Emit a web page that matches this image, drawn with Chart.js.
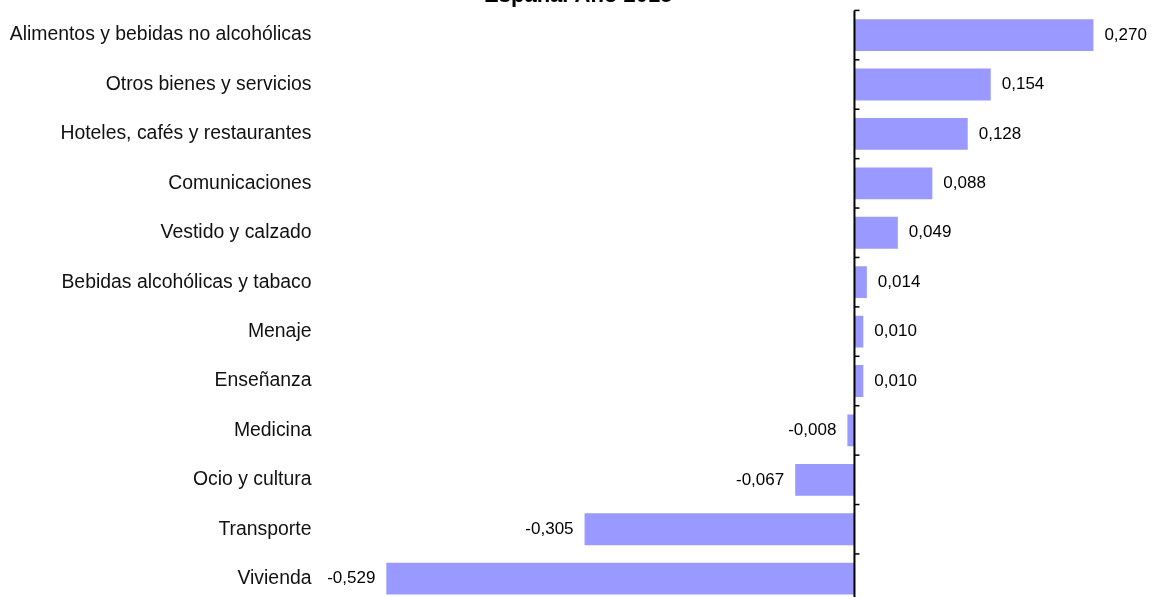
<!DOCTYPE html>
<html>
<head>
<meta charset="utf-8">
<script src="https://cdn.jsdelivr.net/npm/chart.js@4/dist/chart.umd.min.js"></script>
<style>
    html, body { margin: 0; padding: 0; background: #fff; overflow: hidden; }
    #myChart { position: absolute; left: 0; top: -21px; }
</style>
</head>
<body>
<canvas id="myChart" width="1153" height="648"></canvas>
<script>
const CATEGORIES = [
    'Alimentos y bebidas no alcohólicas',
    'Otros bienes y servicios',
    'Hoteles, cafés y restaurantes',
    'Comunicaciones',
    'Vestido y calzado',
    'Bebidas alcohólicas y tabaco',
    'Menaje',
    'Enseñanza',
    'Medicina',
    'Ocio y cultura',
    'Transporte',
    'Vivienda'
];
const VALUES = [0.270, 0.154, 0.128, 0.088, 0.049, 0.014, 0.010, 0.010, -0.008, -0.067, -0.305, -0.529];
const TITLE = 'España. Año 2015';
const X_MIN = -0.6;
const X_MAX = 0.33;

const FONT = '"Liberation Sans", Arial, Helvetica, sans-serif';
const fmt = v => v.toFixed(3).replace('.', ',');

// zero line + little ticks between categories
const axisPlugin = {
    id: 'zeroAxis',
    afterDatasetsDraw(chart) {
        const { ctx, chartArea, scales } = chart;
        const x0 = scales.x.getPixelForValue(0);
        ctx.save();
        ctx.strokeStyle = '#000';
        ctx.lineWidth = 2;
        ctx.beginPath();
        ctx.moveTo(x0, chartArea.top);
        ctx.lineTo(x0, chartArea.bottom);
        ctx.stroke();
        ctx.lineWidth = 1.5;
        for (let i = 0; i <= CATEGORIES.length; i++) {
            const y = scales.y.getPixelForValue(i - 0.5);
            ctx.beginPath();
            ctx.moveTo(x0, y);
            ctx.lineTo(x0 + 5, y);
            ctx.stroke();
        }
        ctx.restore();
    }
};

// value labels next to the bars
const labelPlugin = {
    id: 'valueLabels',
    afterDatasetsDraw(chart) {
        const { ctx } = chart;
        const meta = chart.getDatasetMeta(0);
        ctx.save();
        ctx.font = '17px ' + FONT;
        ctx.fillStyle = '#000';
        ctx.textBaseline = 'middle';
        meta.data.forEach((bar, i) => {
            const v = VALUES[i];
            if (v >= 0) {
                ctx.textAlign = 'left';
                ctx.fillText(fmt(v), bar.x + 11, bar.y);
            } else {
                ctx.textAlign = 'right';
                ctx.fillText(fmt(v), bar.x - 11, bar.y);
            }
        });
        ctx.restore();
    }
};

const ctx = document.getElementById('myChart').getContext('2d');
new Chart(ctx, {
    type: 'bar',
    data: {
        labels: CATEGORIES,
        datasets: [{
            data: VALUES,
            backgroundColor: '#9999ff',
            borderWidth: 0,
            categoryPercentage: 1,
            barPercentage: 0.645
        }]
    },
    options: {
        indexAxis: 'y',
        responsive: false,
        animation: false,
        layout: { padding: { left: 10, right: 6.5, top: 0, bottom: 0 } },
        plugins: {
            legend: { display: false },
            tooltip: { enabled: false },
            title: {
                display: true,
                text: TITLE,
                color: '#000',
                font: { family: FONT, size: 22, weight: 'bold', lineHeight: 1.2 },
                padding: { top: 4, bottom: 1 }
            }
        },
        scales: {
            x: {
                display: false,
                min: X_MIN,
                max: X_MAX
            },
            y: {
                position: 'left',
                grid: { display: false, drawTicks: false },
                border: { display: false },
                ticks: {
                    color: '#111',
                    padding: 12,
                    font: { family: FONT, size: 19.4 }
                },
                afterFit: s => { s.width = 313.5; }
            }
        }
    },
    plugins: [axisPlugin, labelPlugin]
});
</script>
</body>
</html>
